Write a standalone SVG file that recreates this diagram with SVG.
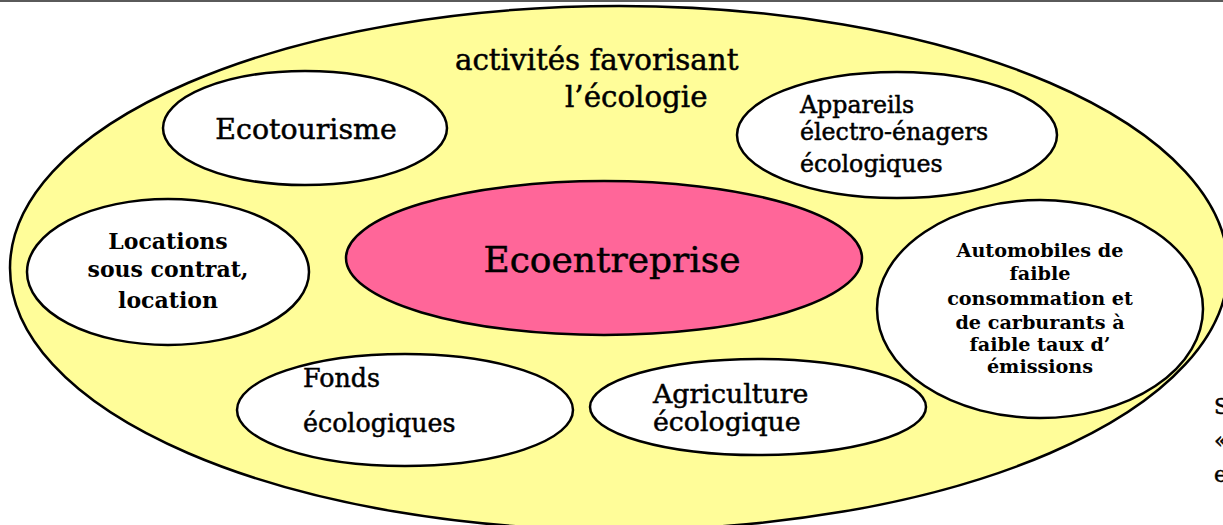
<svg xmlns="http://www.w3.org/2000/svg" width="1223" height="525" viewBox="0 0 1223 525">
<style>
.e{stroke:#000;stroke-width:2.5}
.w{fill:#fff}
.t{font-family:"DejaVu Serif","Liberation Serif",serif;fill:#000}
.h{stroke:#000;stroke-width:0.5}
</style>
<rect width="1223" height="525" fill="#fff"/>
<line x1="0" y1="1" x2="1223" y2="1" stroke="#5a5a5a" stroke-width="2"/>
<g id="outer">
<ellipse class="e" cx="619" cy="268" rx="609" ry="262" fill="#FFFD99"/>
<text class="t h" font-size="29.3" x="455" y="70">activités favorisant</text>
<text class="t h" font-size="29.3" x="565" y="107">l’écologie</text>
</g>
<g id="ecotourisme">
<ellipse class="e w" cx="305" cy="128" rx="142" ry="57"/>
<text class="t h" font-size="28.4" x="306" y="139" text-anchor="middle">Ecotourisme</text>
</g>
<g id="appareils">
<ellipse class="e w" cx="897" cy="135" rx="160" ry="63"/>
<text class="t h" font-size="23.7" x="800" y="113">Appareils</text>
<text class="t h" font-size="23.7" x="800" y="140">électro-énagers</text>
<text class="t h" font-size="23.7" x="800" y="172">écologiques</text>
</g>
<g id="ecoentreprise">
<ellipse class="e" cx="604" cy="258" rx="258" ry="77" fill="#FF6699"/>
<text class="t h" font-size="36" x="612" y="272" text-anchor="middle">Ecoentreprise</text>
</g>
<g id="locations">
<ellipse class="e w" cx="168" cy="272" rx="141" ry="73"/>
<text class="t" font-size="22" font-weight="bold" x="168" y="249" text-anchor="middle">Locations</text>
<text class="t" font-size="22" font-weight="bold" x="168" y="277" text-anchor="middle">sous contrat,</text>
<text class="t" font-size="22" font-weight="bold" x="168" y="308" text-anchor="middle">location</text>
</g>
<g id="automobiles">
<ellipse class="e w" cx="1040" cy="309" rx="163" ry="109"/>
<g class="t" font-size="19.2" font-weight="bold" text-anchor="middle">
<text x="1040" y="257">Automobiles de</text>
<text x="1040" y="280">faible</text>
<text x="1040" y="305">consommation et</text>
<text x="1040" y="329">de carburants à</text>
<text x="1040" y="351">faible taux d’</text>
<text x="1040" y="373">émissions</text>
</g>
</g>
<g id="fonds">
<ellipse class="e w" cx="405" cy="410" rx="168" ry="56"/>
<text class="t h" font-size="25.3" x="303" y="387">Fonds</text>
<text class="t h" font-size="25.3" x="303" y="432">écologiques</text>
</g>
<g id="agriculture">
<ellipse class="e w" cx="758" cy="407" rx="168" ry="48"/>
<text class="t h" font-size="26.8" x="653" y="403">Agriculture</text>
<text class="t h" font-size="26.8" x="653" y="431">écologique</text>
</g>
<g id="connectors"></g>
<g class="t h" font-size="22">
<text x="1214" y="414">S</text>
<text x="1214" y="448">«</text>
<text x="1214" y="482">e</text>
</g>
</svg>
